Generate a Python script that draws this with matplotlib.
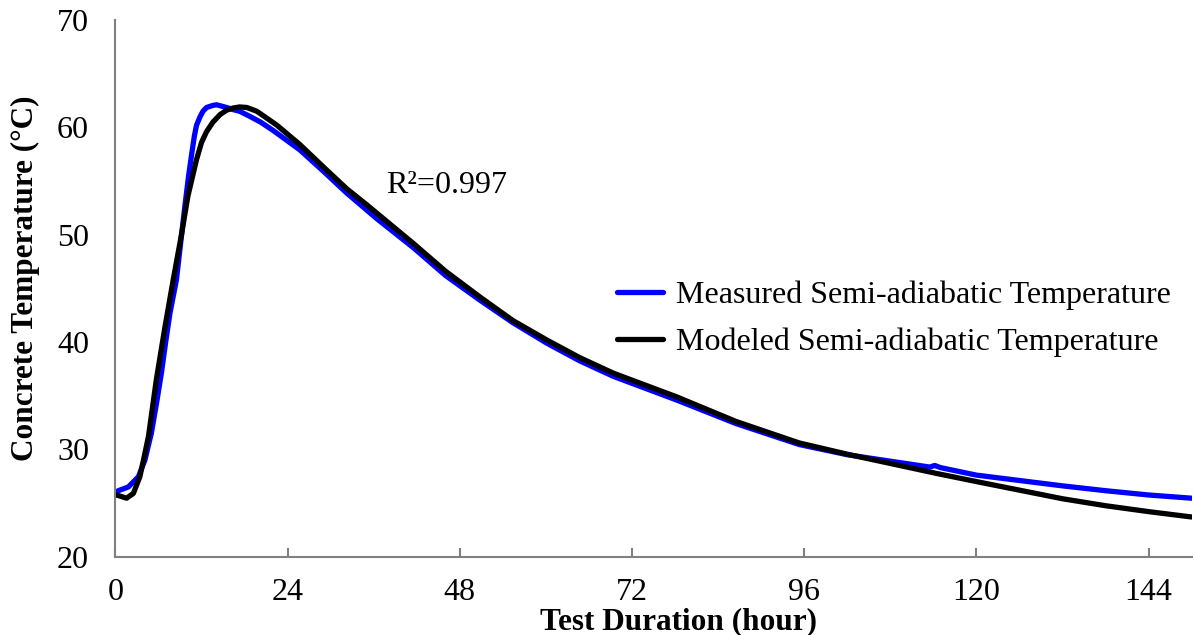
import matplotlib
matplotlib.use("Agg")
import matplotlib.pyplot as plt

plt.rcParams['font.family'] = ['Liberation Serif', 'DejaVu Serif']

# measured semi-adiabatic temperature (blue)
meas_t = [0, 0.4, 1.8, 3.2, 4.1, 5.0, 5.7, 6.4, 7.0, 7.6, 8.5, 9.1, 9.7, 10.2, 10.6,
          11.0, 11.3, 11.8, 12.2, 12.7, 13.6, 14.1, 15.5, 16.4, 17.3, 18.5, 20.2,
          22.0, 25.7, 29.0, 32.2, 36.5, 41.5, 46.0, 50.8, 55.4, 60.1, 64.7, 69.4,
          78.2, 86.5, 95.3, 102, 108, 113.5, 114.2, 115, 120, 126, 132, 138, 144, 150]
meas_T = [26.0, 26.15, 26.5, 27.45, 29.0, 31.5, 34.2, 37.1, 40.0, 42.7, 45.8, 49.3,
          52.8, 55.5, 57.4, 59.2, 60.2, 61.0, 61.5, 61.85, 62.05, 62.1, 61.85, 61.65,
          61.5, 61.1, 60.5, 59.7, 57.9, 55.9, 53.9, 51.45, 48.8, 46.2, 43.9, 41.8, 39.9,
          38.25, 36.8, 34.6, 32.4, 30.45, 29.5, 28.9, 28.35, 28.5, 28.3, 27.6, 27.1,
          26.6, 26.15, 25.75, 25.45]

# modeled semi-adiabatic temperature (black)
model_t = [0, 0.4, 1.55, 2.5, 3.4, 4.0, 4.6, 5.7, 6.9, 8.05, 9.2, 10.1, 11.3, 12.0,
           12.7, 13.6, 14.6, 15.5, 16.4, 17.3, 18.3, 19.7, 21.0, 22.5, 25.7, 29.0,
           32.2, 35.0, 41.5, 46.0, 50.8, 55.4, 60.1, 64.7, 69.4, 78.2, 86.5, 95.3,
           102, 109.3, 114.5, 120, 126, 132, 138, 144, 150]
model_T = [25.75, 25.7, 25.45, 25.9, 27.45, 29.3, 31.2, 36.5, 41.4, 45.8, 50.0, 53.6,
           57.0, 58.6, 59.6, 60.5, 61.2, 61.6, 61.8, 61.9, 61.85, 61.5, 60.9, 60.2,
           58.4, 56.3, 54.3, 52.8, 49.2, 46.6, 44.2, 42.0, 40.2, 38.55, 37.1, 34.9,
           32.6, 30.6, 29.55, 28.5, 27.75, 27.0, 26.2, 25.4, 24.75, 24.2, 23.7]

x_ticks = [0, 24, 48, 72, 96, 120, 144]
y_ticks = [20, 30, 40, 50, 60, 70]

fig = plt.figure(figsize=(11.94, 6.35), dpi=100)
ax = fig.add_axes([0.0967, 0.1233, 0.9013, 0.8452])

ax.plot(meas_t, meas_T, color='#0000ff', lw=3.8, solid_capstyle='round',
        solid_joinstyle='round', label='Measured Semi-adiabatic Temperature')
ax.plot(model_t, model_T, color='black', lw=3.8, solid_capstyle='round',
        solid_joinstyle='round', label='Modeled Semi-adiabatic Temperature')

ax.set_xlim(0, 150)
ax.set_ylim(20, 70)
ax.set_xticks(x_ticks)
ax.set_yticks(y_ticks)

for s in ['top', 'right']:
    ax.spines[s].set_visible(False)
for s in ['left', 'bottom']:
    ax.spines[s].set_color('#808080')
    ax.spines[s].set_linewidth(1.5)

ax.tick_params(axis='x', direction='in', length=6.5, width=1.5, color='#808080',
               labelsize=23, pad=15)
ax.tick_params(axis='y', length=0, labelsize=23, pad=19)

ax.set_xlabel('Test Duration (hour)', fontsize=22.5, fontweight='bold', va='center')
ax.xaxis.set_label_coords(0.5235, -0.121)
ax.set_ylabel('Concrete Temperature (°C)', fontsize=22.5, fontweight='bold', va='center')
ax.yaxis.set_label_coords(-0.084, 0.519)

ax.text(37.7, 54.6, 'R²=0.997', fontsize=23, ha='left', va='center')

ax.legend(loc='center left', bbox_to_anchor=(0.466, 0.443), frameon=False,
          fontsize=23, handlelength=1.44, handletextpad=0.41, labelspacing=0.56,
          borderpad=0, borderaxespad=0)

fig.savefig('out.png', dpi=100)
